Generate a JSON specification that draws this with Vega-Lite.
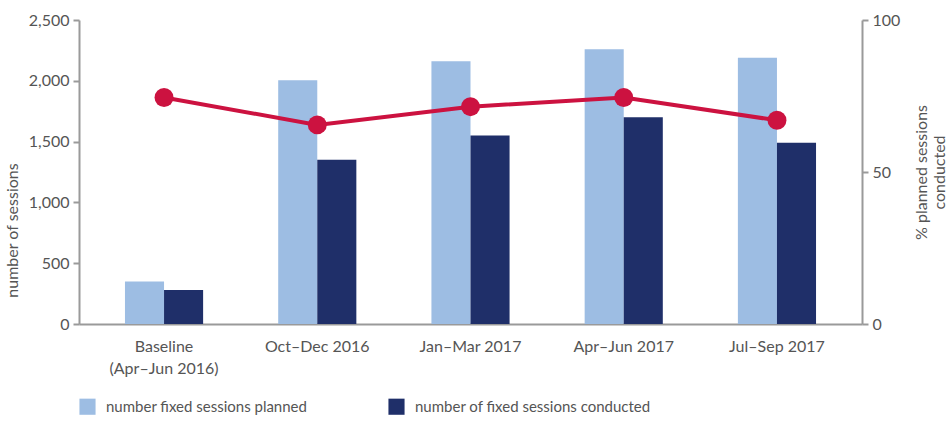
{
  "$schema": "https://vega.github.io/schema/vega-lite/v6.json",
  "width": 948,
  "height": 421,
  "autosize": {"type": "fit", "contains": "padding"},
  "padding": {"top": 12, "left": 4, "right": 0, "bottom": 6},
  "config": {
    "font": "Lato",
    "view": {"stroke": null},
    "axis": {"labelColor": "#555555", "titleColor": "#555555", "labelFontSize": 16, "titleFontSize": 16, "titleFontWeight": "normal", "domainColor": "#9a9a9a", "tickColor": "#9a9a9a", "domainWidth": 2, "tickWidth": 2, "grid": false}
  },
  "data": {
    "values": [
      {"period": "Baseline\n(Apr–Jun 2016)", "planned": 350, "conducted": 280, "pct": 74.5},
      {"period": "Oct–Dec 2016", "planned": 2005, "conducted": 1350, "pct": 65.5},
      {"period": "Jan–Mar 2017", "planned": 2160, "conducted": 1550, "pct": 71.5},
      {"period": "Apr–Jun 2017", "planned": 2260, "conducted": 1700, "pct": 74.5},
      {"period": "Jul–Sep 2017", "planned": 2190, "conducted": 1490, "pct": 67}
    ]
  },
  "encoding": {
    "x": {
      "field": "period", "type": "nominal", "sort": null,
      "scale": {"paddingInner": 0.49, "paddingOuter": 0.3},
      "axis": {"title": null, "labelAngle": 0, "ticks": false, "labelPadding": 14, "labelExpr": "split(datum.label, '\\n')", "labelLineHeight": 22}
    }
  },
  "layer": [
    {
      "transform": [
        {"fold": ["planned", "conducted"], "as": ["series", "value"]}
      ],
      "mark": {"type": "bar"},
      "encoding": {
        "xOffset": {"field": "series", "type": "nominal", "sort": ["planned", "conducted"]},
        "y": {
          "field": "value", "type": "quantitative",
          "scale": {"domain": [0, 2500]},
          "axis": {"title": "number of sessions", "values": [0, 500, 1000, 1500, 2000, 2500], "format": ",d", "tickSize": 6, "labelPadding": 4, "titlePadding": 8, "titleY": 210}
        },
        "color": {
          "field": "series", "type": "nominal",
          "scale": {"domain": ["planned", "conducted"], "range": ["#9dbde3", "#1f2f69"]},
          "legend": {
            "orient": "bottom", "direction": "horizontal", "title": null,
            "labelExpr": "datum.value == 'planned' ? 'number fixed sessions planned' : 'number of fixed sessions conducted'",
            "symbolType": "square", "symbolSize": 260, "symbolStrokeWidth": 0, "labelLimit": 0,
            "labelFontSize": 15, "labelColor": "#555555", "columnPadding": 80, "symbolOffset": 0, "offset": 22, "labelOffset": 10
          }
        }
      }
    },
    {
      "mark": {"type": "line", "color": "#cc1240", "strokeWidth": 4},
      "encoding": {
        "y": {
          "field": "pct", "type": "quantitative",
          "scale": {"domain": [0, 100]},
          "axis": {"orient": "right", "title": ["% planned sessions", "conducted"], "titleAngle": 270, "values": [0, 50, 100], "tickSize": 6, "labelPadding": 4, "titlePadding": 12}
        }
      }
    },
    {
      "mark": {"type": "circle", "color": "#cc1240", "opacity": 1, "size": 360},
      "encoding": {
        "y": {"field": "pct", "type": "quantitative", "scale": {"domain": [0, 100]}, "axis": null}
      }
    }
  ],
  "resolve": {"scale": {"y": "independent"}}
}
